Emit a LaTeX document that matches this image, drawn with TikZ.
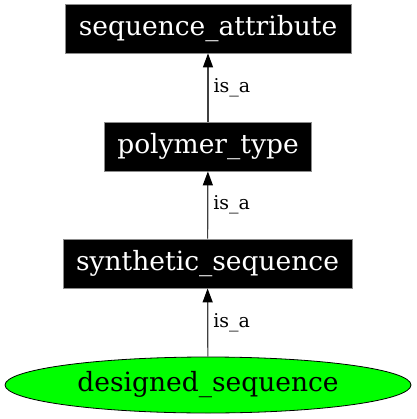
\documentclass[tikz,border=0pt]{standalone}
\usepackage{fontspec}
\setmainfont{DejaVu Serif}
\usetikzlibrary{arrows.meta,shapes.geometric}
\begin{document}
\begin{tikzpicture}[x=1pt,y=-1pt,
  box/.style={fill=black, draw=black!45, line width=0.8pt, text=white, font=\fontsize{26.5}{30}\selectfont, minimum height=49pt, inner sep=0pt},
  oval/.style={ellipse, fill=green, draw=black, line width=0.8pt, font=\fontsize{26.5}{30}\selectfont, minimum width=406pt, minimum height=56pt, inner sep=0pt},
  edge/.style={draw=black!75, line width=1.2pt, -{Triangle[length=14pt,width=10pt,fill=black,color=black]}},
  lbl/.style={midway, anchor=west, xshift=4pt, inner sep=1pt, font=\fontsize{19}{22}\selectfont}]
\useasboundingbox (0,0) rectangle (416,419);
\node[box, minimum width=286pt] (sa) at (208,28.5) {sequence\_attribute};
\node[box, minimum width=207pt] (pt) at (208,146.5) {polymer\_type};
\node[box, minimum width=289pt] (ss) at (207.5,263.5) {synthetic\_sequence};
\node[oval] (ds) at (208,385) {designed\_sequence};
\draw[edge] (pt) -- (sa) node[lbl] {is\_a};
\draw[edge] (ss) -- (pt) node[lbl] {is\_a};
\draw[edge] (ds) -- (ss) node[lbl] {is\_a};
\end{tikzpicture}
\end{document}
